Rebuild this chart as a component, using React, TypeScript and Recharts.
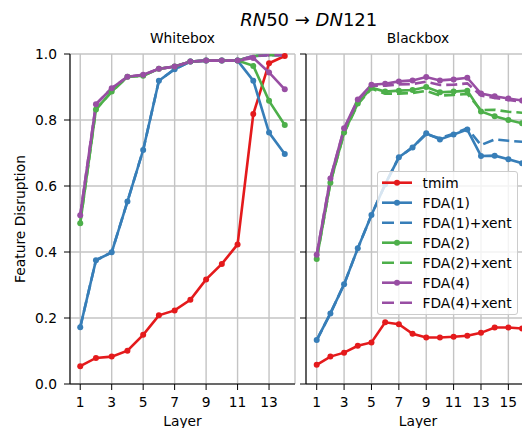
import React from 'react';
import { LineChart, Line, XAxis, YAxis, CartesianGrid, Legend } from 'recharts';

const FONT = '"DejaVu Sans", Verdana, sans-serif';

// ---------- Whitebox data ----------
const whiteLayers = [1, 2, 3, 4, 5, 6, 7, 8, 9, 10, 11, 12, 13, 14];
const wTmim = [0.054, 0.079, 0.083, 0.101, 0.149, 0.208, 0.223, 0.255, 0.317, 0.364, 0.423, 0.818, 0.972, 0.994];
const wFda1 = [0.172, 0.375, 0.399, 0.553, 0.709, 0.919, 0.954, 0.977, 0.98, 0.98, 0.98, 0.919, 0.762, 0.697];
const wFda1x = [0.172, 0.375, 0.399, 0.553, 0.709, 0.919, 0.954, 0.977, 0.98, 0.98, 0.98, 0.994, 0.996, 0.996];
const wFda2 = [0.487, 0.832, 0.886, 0.931, 0.934, 0.955, 0.962, 0.977, 0.98, 0.98, 0.98, 0.964, 0.858, 0.785];
const wFda2x = [0.487, 0.832, 0.886, 0.931, 0.934, 0.955, 0.962, 0.977, 0.98, 0.98, 0.98, 0.994, 0.996, 0.996];
const wFda4 = [0.511, 0.848, 0.896, 0.931, 0.937, 0.955, 0.962, 0.977, 0.98, 0.98, 0.98, 0.988, 0.944, 0.893];
const wFda4x = [0.511, 0.848, 0.896, 0.931, 0.937, 0.955, 0.962, 0.977, 0.98, 0.98, 0.98, 0.994, 0.996, 0.996];

// ---------- Blackbox data ----------
const blackLayers = [1, 2, 3, 4, 5, 6, 7, 8, 9, 10, 11, 12, 13, 14, 15, 16];
const bTmim = [0.058, 0.083, 0.095, 0.116, 0.126, 0.187, 0.181, 0.152, 0.141, 0.141, 0.143, 0.146, 0.155, 0.171, 0.171, 0.168];
const bFda1 = [0.133, 0.214, 0.302, 0.411, 0.512, 0.605, 0.687, 0.717, 0.76, 0.741, 0.756, 0.771, 0.691, 0.692, 0.681, 0.669];
const bFda1x = [0.133, 0.214, 0.302, 0.411, 0.512, 0.605, 0.687, 0.717, 0.757, 0.745, 0.758, 0.775, 0.724, 0.741, 0.737, 0.734];
const bFda2 = [0.379, 0.61, 0.762, 0.85, 0.898, 0.886, 0.889, 0.891, 0.9, 0.884, 0.886, 0.889, 0.826, 0.811, 0.8, 0.79];
const bFda2x = [0.379, 0.61, 0.76, 0.848, 0.895, 0.88, 0.88, 0.882, 0.888, 0.874, 0.876, 0.879, 0.83, 0.831, 0.825, 0.822];
const bFda4 = [0.392, 0.623, 0.775, 0.862, 0.907, 0.91, 0.917, 0.92, 0.93, 0.92, 0.923, 0.928, 0.88, 0.872, 0.865, 0.859];
const bFda4x = [0.392, 0.623, 0.773, 0.86, 0.904, 0.904, 0.908, 0.909, 0.916, 0.906, 0.907, 0.911, 0.874, 0.867, 0.861, 0.855];

// ---------- ticks ----------
const yTicks = [0, 0.2, 0.4, 0.6, 0.8, 1.0];
const whiteXTicks = [1, 3, 5, 7, 9, 11, 13];
const blackXTicks = [1, 3, 5, 7, 9, 11, 13, 15];

const seriesDefs = [
  { key: 'tmim', name: 'tmim', color: '#e41a1c', dashed: false },
  { key: 'fda1', name: 'FDA(1)', color: '#377eb8', dashed: false },
  { key: 'fda1x', name: 'FDA(1)+xent', color: '#377eb8', dashed: true },
  { key: 'fda2', name: 'FDA(2)', color: '#4daf4a', dashed: false },
  { key: 'fda2x', name: 'FDA(2)+xent', color: '#4daf4a', dashed: true },
  { key: 'fda4', name: 'FDA(4)', color: '#984ea3', dashed: false },
  { key: 'fda4x', name: 'FDA(4)+xent', color: '#984ea3', dashed: true },
];

const whiteRows = whiteLayers.map((layer, i) => ({
  layer,
  tmim: wTmim[i],
  fda1: wFda1[i],
  fda1x: wFda1x[i],
  fda2: wFda2[i],
  fda2x: wFda2x[i],
  fda4: wFda4[i],
  fda4x: wFda4x[i],
}));

const blackRows = blackLayers.map((layer, i) => ({
  layer,
  tmim: bTmim[i],
  fda1: bFda1[i],
  fda1x: bFda1x[i],
  fda2: bFda2[i],
  fda2x: bFda2x[i],
  fda4: bFda4[i],
  fda4x: bFda4x[i],
}));

const DASH = '11 5';
const LW = 2.6;
const tickStyle = { fill: '#000', fontSize: 13.8, fontFamily: FONT };
const spine = { stroke: '#000', strokeWidth: 1.1 };

const renderLines = () =>
  seriesDefs.map((s) => (
    <Line
      key={s.key}
      type="linear"
      dataKey={s.key}
      name={s.name}
      stroke={s.color}
      strokeWidth={LW}
      strokeDasharray={s.dashed ? DASH : undefined}
      dot={s.dashed ? false : { r: 3, fill: s.color, stroke: s.color, strokeWidth: 0 }}
      activeDot={false}
      isAnimationActive={false}
    />
  ));

const LegendBox = () => (
  <div
    style={{
      width: 141,
      height: 144,
      boxSizing: 'border-box',
      background: 'rgba(255,255,255,0.8)',
      border: '1px solid #cccccc',
      borderRadius: 3,
    }}
  >
    <svg width={139} height={142} style={{ display: 'block' }}>
      {seriesDefs.map((s, i) => {
        const cy = 10.7 + i * 20;
        return (
          <g key={s.key}>
            <line
              x1={4}
              x2={34}
              y1={cy}
              y2={cy}
              stroke={s.color}
              strokeWidth={LW}
              strokeDasharray={s.dashed ? '12 6' : undefined}
            />
            {!s.dashed && <circle cx={19} cy={cy} r={3} fill={s.color} />}
            <text x={44.5} y={cy + 5} fontSize={13.8} fontFamily={FONT} fill="#000">
              {s.name}
            </text>
          </g>
        );
      })}
    </svg>
  </div>
);

export default function App() {
  return (
    <div
      style={{
        position: 'absolute',
        left: 0,
        top: 0,
        width: 522,
        height: 428,
        overflow: 'hidden',
        background: '#fff',
        fontFamily: FONT,
      }}
    >
      {/* Whitebox */}
      <div style={{ position: 'absolute', left: 0, top: 0 }}>
        <LineChart width={300} height={428} data={whiteRows} margin={{ top: 54, right: 5, bottom: 0, left: 0 }}>
          <CartesianGrid stroke="#c4c4c4" strokeWidth={1.4} />
          <XAxis
            dataKey="layer"
            type="number"
            domain={[0.35, 14.65]}
            ticks={whiteXTicks}
            interval={0}
            height={44}
            tickSize={6}
            tickMargin={7}
            axisLine={spine}
            tickLine={{ stroke: '#000' }}
            tick={tickStyle}
            label={{ value: 'Layer', position: 'insideBottom', offset: 2, fill: '#000', fontSize: 13.8, fontFamily: FONT }}
          />
          <XAxis
            xAxisId="top"
            orientation="top"
            type="number"
            domain={[0.35, 14.65]}
            height={0}
            tick={false}
            tickLine={false}
            axisLine={spine}
          />
          <YAxis
            type="number"
            domain={[0, 1]}
            ticks={yTicks}
            interval={0}
            width={70}
            tickSize={6}
            tickMargin={7}
            axisLine={spine}
            tickLine={{ stroke: '#000' }}
            tick={tickStyle}
            tickFormatter={(v: number) => v.toFixed(1)}
            label={{
              value: 'Feature Disruption',
              angle: -90,
              position: 'insideLeft',
              offset: 20,
              fill: '#000',
              fontSize: 13.8,
              fontFamily: FONT,
              style: { textAnchor: 'middle' },
            }}
          />
          <YAxis
            yAxisId="right"
            orientation="right"
            type="number"
            domain={[0, 1]}
            width={0}
            tick={false}
            tickLine={false}
            axisLine={spine}
          />
          {renderLines()}
        </LineChart>
      </div>

      {/* Blackbox */}
      <div style={{ position: 'absolute', left: 290, top: 0 }}>
        <LineChart width={260} height={428} data={blackRows} margin={{ top: 54, right: 20, bottom: 0, left: 0 }}>
          <CartesianGrid stroke="#c4c4c4" strokeWidth={1.4} />
          <XAxis
            dataKey="layer"
            type="number"
            domain={[0.218, 16.58]}
            ticks={blackXTicks}
            interval={0}
            height={44}
            tickSize={6}
            tickMargin={7}
            axisLine={spine}
            tickLine={{ stroke: '#000' }}
            tick={tickStyle}
            label={{ value: 'Layer', position: 'insideBottom', offset: 2, fill: '#000', fontSize: 13.8, fontFamily: FONT }}
          />
          <XAxis
            xAxisId="top"
            orientation="top"
            type="number"
            domain={[0.218, 16.58]}
            height={0}
            tick={false}
            tickLine={false}
            axisLine={spine}
          />
          <YAxis
            type="number"
            domain={[0, 1]}
            ticks={yTicks}
            interval={0}
            width={16}
            tickSize={6}
            tickMargin={7}
            axisLine={spine}
            tickLine={{ stroke: '#000' }}
            tick={tickStyle}
            tickFormatter={() => ''}
          />
          {renderLines()}
          <Legend
            layout="horizontal"
            align="center"
            verticalAlign="middle"
            content={() => <LegendBox />}
            wrapperStyle={{ position: 'absolute', left: 87.3, top: 171, width: 141, height: 144 }}
          />
        </LineChart>
      </div>

      {/* Titles */}
      <svg width={522} height={428} style={{ position: 'absolute', left: 0, top: 0, pointerEvents: 'none' }}>
        <text x={308.7} y={25.5} textAnchor="middle" fontSize={18} fontFamily={FONT} fill="#000">
          <tspan fontStyle="italic">RN</tspan>
          <tspan>50 → </tspan>
          <tspan fontStyle="italic">DN</tspan>
          <tspan>121</tspan>
        </text>
        <text x={182.5} y={43} textAnchor="middle" fontSize={13.8} fontFamily={FONT} fill="#000">
          Whitebox
        </text>
        <text x={418} y={43} textAnchor="middle" fontSize={13.8} fontFamily={FONT} fill="#000">
          Blackbox
        </text>
      </svg>
    </div>
  );
}
